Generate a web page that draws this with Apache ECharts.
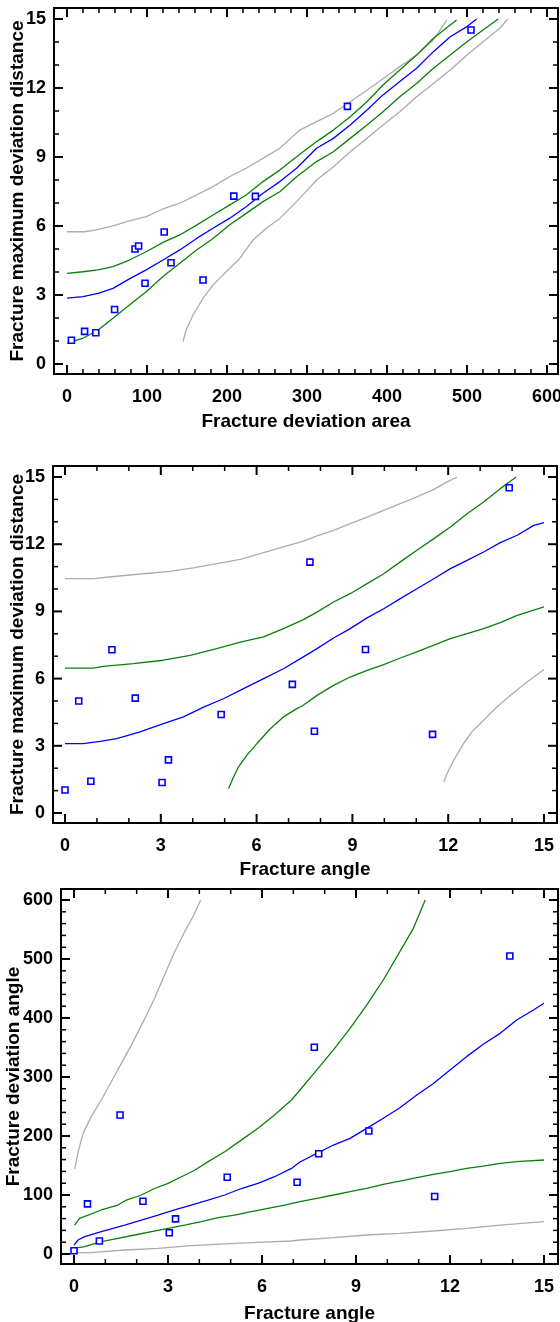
<!DOCTYPE html>
<html>
<head>
<meta charset="utf-8">
<script src="https://cdn.jsdelivr.net/npm/echarts@6/dist/echarts.min.js"></script>
<style>
html,body{margin:0;padding:0;background:#fff;}
#c{width:560px;height:1322px;}
</style>
</head>
<body>
<div id="c"></div>
<script>
// ---------- Observations ----------
const fractureAngle = [0, 0.43, 0.81, 1.47, 2.2, 3.04, 3.24, 4.89, 7.12, 7.67, 7.81, 9.41, 11.51, 13.91];
const deviationArea = [5.5, 85, 22, 235.5, 89.5, 36, 59.5, 130, 121.5, 350.5, 170, 208.5, 97.5, 505];
const maxDeviationDistance = [1.03, 5.0, 1.42, 7.29, 5.13, 1.36, 2.37, 4.4, 5.74, 11.2, 3.65, 7.3, 3.51, 14.52];

// ---------- Panel 1: distance vs area (curves) ----------
const p1Fit = [[0,2.86],[20,2.93],[38.8,3.07],[57.5,3.29],[78,3.7],[99,4.09],[120,4.52],[141,4.96],[162,5.46],[182.5,5.9],[203,6.33],[224,6.84],[245,7.42],[266,7.93],[287,8.51],[312,9.38],[333,9.81],[354,10.39],[375,11.04],[395,11.7],[416,12.28],[437,12.86],[458,13.58],[479,14.23],[500,14.67],[512,15.0]];
const p1ConfUpper = [[0,3.94],[20,4.01],[38.8,4.09],[57.5,4.23],[78,4.52],[99,4.88],[120,5.29],[141,5.61],[162,6.04],[182.5,6.48],[203,6.91],[224,7.35],[245,7.93],[266,8.43],[287,9.01],[312,9.67],[333,10.17],[354,10.75],[375,11.4],[395,12.13],[416,12.78],[437,13.43],[458,14.16],[487,14.96]];
const p1ConfLower = [[0,0.9],[20,1.12],[38.8,1.48],[57.5,1.99],[78,2.57],[99,3.14],[120,3.8],[141,4.38],[162,4.96],[182.5,5.46],[203,6.04],[224,6.55],[245,7.06],[266,7.49],[287,8.14],[312,8.8],[333,9.23],[354,9.81],[375,10.39],[395,10.97],[416,11.62],[437,12.2],[458,12.86],[479,13.43],[500,14.01],[520,14.52],[539,15.0]];
const p1PredUpper = [[0,5.75],[22,5.75],[36.7,5.83],[57.5,6.01],[78,6.22],[99,6.41],[120,6.74],[141,6.99],[162,7.35],[182.5,7.71],[203,8.14],[224,8.51],[245,8.94],[266,9.38],[291,10.17],[312,10.54],[333,10.9],[354,11.4],[375,11.9],[395,12.4],[416,12.93],[437,13.43],[458,14.09],[475,14.96]];
const p1PredLower = [[145,0.97],[149,1.48],[157.5,2.13],[170,2.86],[182.5,3.43],[199,4.01],[216,4.59],[232.5,5.39],[249,5.9],[266,6.33],[287,7.06],[312,8.0],[333,8.58],[354,9.23],[375,9.81],[395,10.39],[416,10.97],[437,11.62],[458,12.2],[479,12.78],[500,13.43],[520,14.01],[541,14.6],[551,15.0]];

// ---------- Panel 2: distance vs angle ----------
const p2Fit = [[0,3.1],[0.57,3.1],[1.1,3.2],[1.62,3.32],[2.35,3.62],[3.08,3.99],[3.71,4.29],[4.34,4.73],[4.96,5.1],[5.59,5.55],[6.22,6.0],[6.84,6.44],[7.45,6.96],[7.89,7.34],[8.41,7.81],[8.93,8.23],[9.46,8.71],[9.98,9.12],[10.5,9.57],[11.02,10.01],[11.55,10.46],[12.07,10.91],[12.59,11.28],[13.11,11.65],[13.63,12.07],[14.16,12.4],[14.68,12.84],[15.0,12.96]];
const p2ConfUpper = [[0,6.47],[0.89,6.47],[1.2,6.55],[2.14,6.67],[3.08,6.82],[3.92,7.04],[4.75,7.34],[5.49,7.63],[6.22,7.86],[6.84,8.23],[7.45,8.62],[7.89,8.97],[8.41,9.42],[8.93,9.79],[9.46,10.24],[9.98,10.68],[10.5,11.21],[11.02,11.73],[11.55,12.25],[12.07,12.77],[12.59,13.36],[13.11,13.88],[13.63,14.48],[14.13,15.0]];
const p2ConfLower = [[5.12,1.09],[5.28,1.61],[5.43,2.05],[5.69,2.57],[6.01,3.1],[6.43,3.76],[6.84,4.29],[7.26,4.66],[7.45,4.8],[7.89,5.25],[8.41,5.7],[8.93,6.07],[9.46,6.37],[9.98,6.62],[10.5,6.92],[11.02,7.19],[11.55,7.49],[12.07,7.78],[12.59,8.01],[13.11,8.23],[13.63,8.5],[14.16,8.82],[15.0,9.2]];
const p2PredUpper = [[0,10.46],[0.89,10.46],[1.62,10.57],[2.46,10.68],[3.29,10.79],[4.02,10.94],[4.75,11.13],[5.49,11.32],[6.22,11.62],[6.84,11.88],[7.45,12.13],[7.89,12.37],[8.41,12.62],[8.93,12.92],[9.46,13.21],[9.98,13.51],[10.5,13.81],[11.02,14.11],[11.55,14.45],[11.97,14.78],[12.28,15.0]];
const p2PredLower = [[11.86,1.38],[12.01,1.9],[12.17,2.35],[12.48,3.1],[12.74,3.62],[13.11,4.14],[13.52,4.73],[13.94,5.25],[14.47,5.85],[15.0,6.41]];

// ---------- Panel 3: area vs angle ----------
const p3Fit = [[0,15],[0.13,23.7],[0.34,29.4],[0.87,37.9],[1.62,49],[2.15,57.6],[2.68,66],[3.21,74.6],[3.74,83],[4.28,91.5],[4.81,100],[5.34,111],[5.87,119.8],[6.4,131],[6.94,145],[7.21,156],[7.75,170.6],[8.28,184.7],[8.81,196],[9.34,213],[9.87,230],[10.4,248],[10.94,269.5],[11.47,289],[12.0,312],[12.53,334.5],[13.06,355.4],[13.6,374],[14.13,396.6],[14.66,413.6],[15.0,424.9]];
const p3ConfUpper = [[0.02,49],[0.18,60.5],[0.45,66],[0.87,74.6],[1.4,83],[1.67,91.5],[2.15,100],[2.57,111],[3.0,119.8],[3.43,131],[3.85,142],[4.28,156.5],[4.81,173.4],[5.34,193],[5.87,213],[6.4,235.6],[6.94,261],[7.26,281],[7.75,312],[8.28,346],[8.81,382.5],[9.34,422],[9.87,464.4],[10.4,512.4],[10.83,552],[11.21,600]];
const p3ConfLower = [[0,9.6],[0.34,12.4],[0.87,20.9],[1.4,26.6],[1.94,32.2],[2.47,37.9],[3.0,43.5],[3.53,49],[4.06,54.8],[4.6,61.6],[5.13,66],[5.66,71.8],[6.19,77.4],[6.72,83],[7.21,88.7],[7.75,94.4],[8.28,100],[8.81,105.6],[9.34,111.3],[9.87,118],[10.4,123.7],[10.94,129.4],[11.47,135],[12.0,139.5],[12.53,145.2],[13.06,149],[13.6,153.7],[14.13,156.5],[15.0,159.3]];
const p3PredUpper = [[0.02,144],[0.13,173],[0.29,204.5],[0.55,232.8],[0.87,261],[1.19,292],[1.51,323],[1.83,354],[2.26,399],[2.57,433],[2.89,473],[3.21,512],[3.53,546],[3.8,572],[4.04,600]];
const p3PredLower = [[0,2.3],[0.55,2.3],[1.62,6.8],[2.68,9.6],[3.74,14.1],[4.81,17],[5.87,19.8],[6.94,22],[7.21,23.7],[8.28,27.7],[9.34,32.2],[10.4,35],[11.47,39],[12.53,43.5],[13.6,49],[15.0,54.8]];

// ---------- Axis ticks / titles ----------
const xTitles = ['Fracture deviation area', 'Fracture angle', 'Fracture angle'];
const yTitles = ['Fracture maximum deviation distance', 'Fracture maximum deviation distance', 'Fracture deviation angle'];
const areaTicks = [0, 100, 200, 300, 400, 500, 600];
const distTicks = [0, 3, 6, 9, 12, 15];
const angleTicks = [0, 3, 6, 9, 12, 15];
const xTickSets = [areaTicks, angleTicks, angleTicks];
const yTickSets = [distTicks, distTicks, areaTicks];
const xMinorPer = [5, 3, 3];   // minor divisions per major step
const yMinorPer = [3, 3, 5];

const FONT = '"Liberation Sans", Arial, sans-serif';
const BLUE = '#0000ff', GREEN = '#0a800a', GRAY = '#acacac';

// layout: data area of each panel (first..last tick) and frame padding around it (bottom, top, left, right)
const dataArea = [
  {left: 67, top: 19, width: 480, height: 345},
  {left: 65, top: 477, width: 479, height: 336},
  {left: 74, top: 900, width: 470, height: 354}
];
const framePad = [
  [10, 11, 13, 11],
  [10, 11, 12, 13],
  [10, 11, 13, 14]
];
const xNameGap = [38, 37, 40];
const yNameGap = [27, 26, 38];
const MAJOR_LEN = 9, MINOR_LEN = 5;

function minorValues(ticks, per){
  const out = [];
  for (let k = 0; k < ticks.length - 1; k++) {
    const step = (ticks[k+1] - ticks[k]) / per;
    for (let j = 1; j < per; j++) out.push(ticks[k] + step * j);
  }
  return out;
}

const grid = [], xAxis = [], yAxis = [], series = [], extents = [];
const labelStyle = {color: '#000', fontFamily: FONT, fontWeight: 'bold', fontSize: 18};
const nameStyle = {color: '#000', fontFamily: FONT, fontWeight: 'bold', fontSize: 19};

for (let i = 0; i < 3; i++) {
  const a = dataArea[i], p = framePad[i];
  const g = {left: a.left - p[2], top: a.top - p[1], width: a.width + p[2] + p[3], height: a.height + p[0] + p[1]};
  grid.push(Object.assign({outerBoundsMode: 'none', containLabel: false,
             show: true, borderColor: '#000', borderWidth: 2, backgroundColor: 'transparent'}, g));
  const xt = xTickSets[i], yt = yTickSets[i];
  const xs = a.width / (xt[xt.length-1] - xt[0]);
  const ys = a.height / (yt[yt.length-1] - yt[0]);
  const ext = {
    xmin: xt[0] - p[2] / xs, xmax: xt[xt.length-1] + p[3] / xs,
    ymin: yt[0] - p[0] / ys, ymax: yt[yt.length-1] + p[1] / ys
  };
  extents.push(ext);

  xAxis.push({
    type: 'value', gridIndex: i, min: ext.xmin, max: ext.xmax, position: 'bottom',
    axisLine: {show: false, onZero: false}, axisTick: {show: false}, splitLine: {show: false},
    axisLabel: Object.assign({show: true, margin: 14, customValues: xt}, labelStyle),
    name: xTitles[i], nameLocation: 'middle', nameGap: xNameGap[i], nameMoveOverlap: false, nameTextStyle: nameStyle
  });
  yAxis.push({
    type: 'value', gridIndex: i, min: ext.ymin, max: ext.ymax, position: 'left',
    axisLine: {show: false, onZero: false}, axisTick: {show: false}, splitLine: {show: false},
    axisLabel: Object.assign({show: true, margin: 8, customValues: yt}, labelStyle),
    name: yTitles[i], nameLocation: 'middle', nameGap: yNameGap[i], nameRotate: 90, nameMoveOverlap: false, nameTextStyle: nameStyle
  });
}

function lineSeries(data, color, i){
  return {type: 'line', data: data, xAxisIndex: i, yAxisIndex: i, showSymbol: false, symbol: 'none',
    clip: false, lineStyle: {color: color, width: 1.3}, silent: true, animation: false};
}
function pointSeries(xs, ys, i){
  return {type: 'scatter', data: xs.map((x, k) => [x, ys[k]]), xAxisIndex: i, yAxisIndex: i,
    symbol: 'rect', symbolSize: 6, clip: false, animation: false, z: 4,
    itemStyle: {color: '#fff', borderColor: BLUE, borderWidth: 1.6, opacity: 1}};
}

const panels = [
  {fit: p1Fit, cu: p1ConfUpper, cl: p1ConfLower, pu: p1PredUpper, pl: p1PredLower, xs: deviationArea, ys: maxDeviationDistance},
  {fit: p2Fit, cu: p2ConfUpper, cl: p2ConfLower, pu: p2PredUpper, pl: p2PredLower, xs: fractureAngle, ys: maxDeviationDistance},
  {fit: p3Fit, cu: p3ConfUpper, cl: p3ConfLower, pu: p3PredUpper, pl: p3PredLower, xs: fractureAngle, ys: deviationArea}
];
panels.forEach((p, i) => {
  series.push(lineSeries(p.pu, GRAY, i), lineSeries(p.pl, GRAY, i),
              lineSeries(p.cu, GREEN, i), lineSeries(p.cl, GREEN, i),
              lineSeries(p.fit, BLUE, i), pointSeries(p.xs, p.ys, i));
});

const chart = echarts.init(document.getElementById('c'), null, {renderer: 'canvas'});
chart.setOption({
  animation: false,
  backgroundColor: '#fff',
  grid: grid,
  xAxis: xAxis,
  yAxis: yAxis,
  series: series
});

// inward tick marks on all four frame edges, placed through each grid's own scales
try {
  const elements = [];
  function seg(x1, y1, x2, y2, w){
    elements.push({type: 'line', z: 100, silent: true,
      shape: {x1: x1, y1: y1, x2: x2, y2: y2}, style: {stroke: '#000', lineWidth: w}});
  }
  for (let i = 0; i < 3; i++) {
    const ext = extents[i];
    const xt = xTickSets[i], yt = yTickSets[i];
    const xSets = [[xt, MAJOR_LEN, 2], [minorValues(xt, xMinorPer[i]), MINOR_LEN, 1.5]];
    const ySets = [[yt, MAJOR_LEN, 2], [minorValues(yt, yMinorPer[i]), MINOR_LEN, 1.5]];
    xSets.forEach(([vals, len, w]) => vals.forEach(v => {
      const b = chart.convertToPixel({gridIndex: i}, [v, ext.ymin]);
      const t = chart.convertToPixel({gridIndex: i}, [v, ext.ymax]);
      if (b && t) { seg(b[0], b[1], b[0], b[1] - len, w); seg(t[0], t[1], t[0], t[1] + len, w); }
    }));
    ySets.forEach(([vals, len, w]) => vals.forEach(v => {
      const l = chart.convertToPixel({gridIndex: i}, [ext.xmin, v]);
      const r = chart.convertToPixel({gridIndex: i}, [ext.xmax, v]);
      if (l && r) { seg(l[0], l[1], l[0] + len, l[1], w); seg(r[0], r[1], r[0] - len, r[1], w); }
    }));
  }
  chart.setOption({graphic: {elements: elements}});
} catch (e) { /* keep chart even if ticks fail */ }
</script>
</body>
</html>
